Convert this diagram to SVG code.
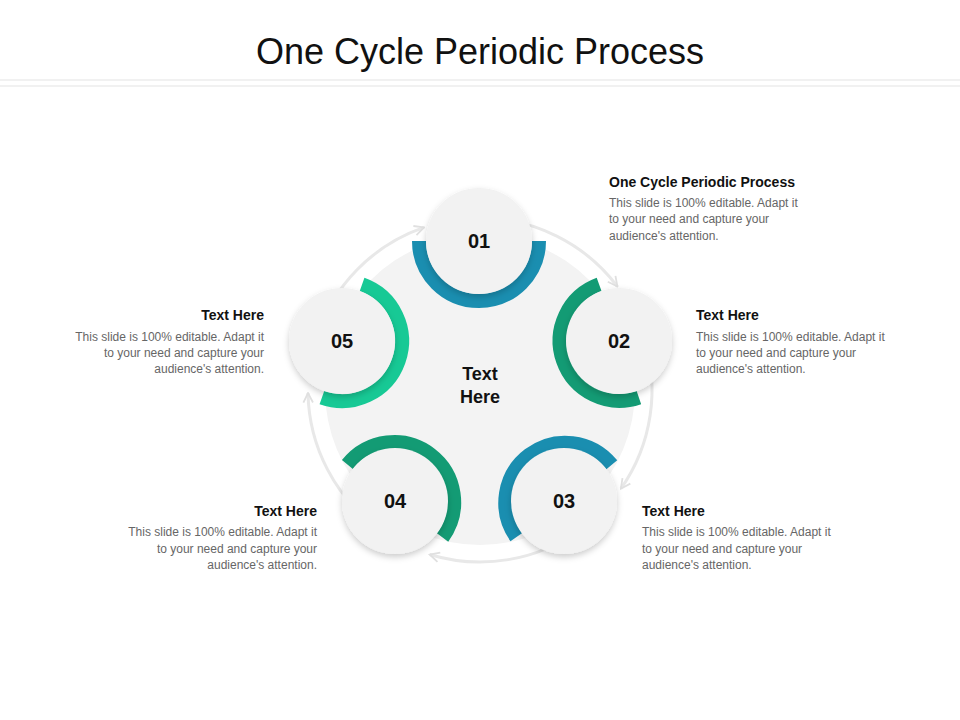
<svg xmlns="http://www.w3.org/2000/svg" width="960" height="720" viewBox="0 0 960 720">
<style>
text{font-family:"Liberation Sans",Arial,sans-serif}
.t{font-size:36px;fill:#111}
.h{font-size:14px;font-weight:bold;fill:#111}
.b{font-size:12px;fill:#666}
.n{font-size:20px;font-weight:bold;fill:#111;text-anchor:middle}
.c{font-size:18px;font-weight:bold;fill:#111;text-anchor:middle}
.node{fill:#f2f2f2;filter:url(#sh)}
.arc{fill:none;stroke-width:14}
.ring{fill:none;stroke:#e8e8e8;stroke-width:3;marker-end:url(#ah)}
</style>
<defs>
<filter id="sh" x="-30%" y="-30%" width="160%" height="160%"><feDropShadow dx="0" dy="3" stdDeviation="3" flood-color="#000" flood-opacity="0.2"/></filter>
<marker id="ah" viewBox="0 0 10 10" refX="9" refY="5" markerWidth="4" markerHeight="4" orient="auto" markerUnits="strokeWidth"><path d="M1,1 L9,5 L1,9" fill="none" stroke="#e0e0e0" stroke-width="1.5"/></marker>
</defs>
<rect width="960" height="720" fill="#fff"/>
<text class="t" x="480" y="64" text-anchor="middle">One Cycle Periodic Process</text>
<line x1="0" y1="80" x2="960" y2="80" stroke="#e3e3e3"/>
<line x1="0" y1="86" x2="960" y2="86" stroke="#e3e3e3"/>
<g id="connectors">
<path class="ring" d="M316.4,336.9 A172,172 0 0 1 424,227.4"/>
<path class="ring" d="M480,218 A172,172 0 0 1 617.4,286.5"/>
<path class="ring" d="M643.6,336.9 A172,172 0 0 1 620.9,488.7"/>
<path class="ring" d="M581.1,529.1 A172,172 0 0 1 429.7,554.5"/>
<path class="ring" d="M378.9,529.1 A172,172 0 0 1 308,393"/>
</g>
<g id="center"><circle cx="480" cy="390" r="155" fill="#f3f3f3"/>
<text class="c" x="480" y="380">Text</text><text class="c" x="480" y="403">Here</text></g>
<g id="n01"><path class="arc" stroke="#1a8eb0" d="M539,241 A60,60 0 0 1 419,241"/><circle class="node" cx="479" cy="241" r="53"/><text class="n" x="479" y="248">01</text></g>
<g id="n02"><path class="arc" stroke="#139b74" d="M638.9,397.6 A60,60 0 0 1 599.1,284.4"/><circle class="node" cx="619" cy="341" r="53"/><text class="n" x="619" y="348">02</text></g>
<g id="n03"><path class="arc" stroke="#1a8eb0" d="M516.2,537.2 A60,60 0 0 1 611.8,464.8"/><circle class="node" cx="564" cy="501" r="53"/><text class="n" x="564" y="508">03</text></g>
<g id="n04"><path class="arc" stroke="#139b74" d="M347.4,464.5 A60,60 0 0 1 442.6,537.5"/><circle class="node" cx="395" cy="501" r="53"/><text class="n" x="395" y="508">04</text></g>
<g id="n05"><path class="arc" stroke="#17c995" d="M362.1,284.4 A60,60 0 0 1 321.9,397.6"/><circle class="node" cx="342" cy="341" r="53"/><text class="n" x="342" y="348">05</text></g>
<g id="t01"><text class="h" x="609" y="187">One Cycle Periodic Process</text><text class="b" x="609" y="207">This slide is 100% editable. Adapt it</text><text class="b" x="609" y="223">to your need and capture your</text><text class="b" x="609" y="240">audience's attention.</text></g>
<g id="t02"><text class="h" x="696" y="320">Text Here</text><text class="b" x="696" y="341">This slide is 100% editable. Adapt it</text><text class="b" x="696" y="357">to your need and capture your</text><text class="b" x="696" y="373">audience's attention.</text></g>
<g id="t03"><text class="h" x="642" y="516">Text Here</text><text class="b" x="642" y="536">This slide is 100% editable. Adapt it</text><text class="b" x="642" y="553">to your need and capture your</text><text class="b" x="642" y="569">audience's attention.</text></g>
<g id="t04" text-anchor="end"><text class="h" x="317" y="516">Text Here</text><text class="b" x="317" y="536">This slide is 100% editable. Adapt it</text><text class="b" x="317" y="553">to your need and capture your</text><text class="b" x="317" y="569">audience's attention.</text></g>
<g id="t05" text-anchor="end"><text class="h" x="264" y="320">Text Here</text><text class="b" x="264" y="341">This slide is 100% editable. Adapt it</text><text class="b" x="264" y="357">to your need and capture your</text><text class="b" x="264" y="373">audience's attention.</text></g>
</svg>
